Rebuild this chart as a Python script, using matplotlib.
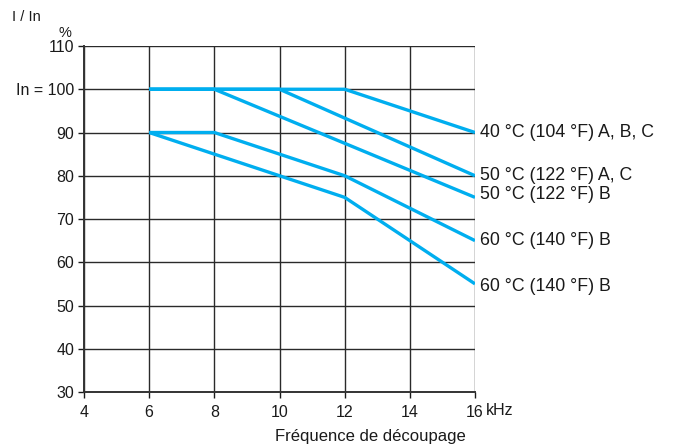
import matplotlib
matplotlib.use("Agg")
import matplotlib.pyplot as plt

plt.rcParams['font.family'] = ['Liberation Sans', 'DejaVu Sans']

# Derating curves: switching frequency (kHz) vs. I/In (%)
freq_40_abc = [6, 12, 16]
curr_40_abc = [100, 100, 90]
freq_50_ac = [6, 10, 16]
curr_50_ac = [100, 100, 80]
freq_50_b = [6, 8, 16]
curr_50_b = [100, 100, 75]
freq_60_b1 = [6, 8, 12, 16]
curr_60_b1 = [90, 90, 80, 65]
freq_60_b2 = [6, 12, 16]
curr_60_b2 = [90, 75, 55]

curves = [
    (freq_40_abc, curr_40_abc, "40 °C (104 °F) A, B, C", 0.0),
    (freq_50_ac, curr_50_ac, "50 °C (122 °F) A, C", 0.0),
    (freq_50_b, curr_50_b, "50 °C (122 °F) B", 0.7),
    (freq_60_b1, curr_60_b1, "60 °C (140 °F) B", 0.0),
    (freq_60_b2, curr_60_b2, "60 °C (140 °F) B", -0.7),
]

x_ticks = [4, 6, 8, 10, 12, 14, 16]
x_tick_labels = ["4", "6", "8", "10", "12", "14", "16"]
y_ticks = [30, 40, 50, 60, 70, 80, 90, 100, 110]
y_tick_labels = ["30", "40", "50", "60", "70", "80", "90", "In = 100", "110"]

txt = "#1a1a1a"
fig = plt.figure(figsize=(6.78, 4.44), dpi=100)
ax = fig.add_axes([0.1239, 0.1171, 0.5767, 0.7793])

line_color = "#00AEEF"
for xs, ys, label, dy in curves:
    ax.plot(xs, ys, color=line_color, lw=2.4, solid_capstyle='butt', zorder=3)
    ax.text(xs[-1] + 0.14, ys[-1] + dy, label, fontsize=12.8,
            ha='left', va='center', color=txt, clip_on=False)

ax.set_xlim(4, 16)
ax.set_ylim(30, 110)
ax.set_xticks(x_ticks)
ax.set_xticklabels(x_tick_labels)
ax.set_yticks(y_ticks)
ax.set_yticklabels(y_tick_labels)
ax.tick_params(axis='both', labelsize=11.5, colors=txt, length=4,
               width=1, direction='out')
ax.tick_params(axis='x', pad=5)
ax.tick_params(axis='y', pad=3)
ax.grid(True, color="#2a2a2a", lw=1, zorder=1)

for side in ['top', 'right']:
    ax.spines[side].set_visible(False)
for side in ['left', 'bottom']:
    ax.spines[side].set_color("#333333")
    ax.spines[side].set_linewidth(1.4)

fig.text(12 / 678, 1 - 17 / 444, "I / In", fontsize=10.5, ha='left', va='center', color=txt)
fig.text(65 / 678, 1 - 33 / 444, "%", fontsize=10.5, ha='center', va='center', color=txt)
fig.text(486 / 678, 1 - 410 / 444, "kHz", fontsize=11.5, ha='left', va='center', color=txt)
fig.text(370 / 678, 1 - 436 / 444, "Fréquence de découpage", fontsize=12,
         ha='center', va='center', color=txt)

fig.savefig("out.png", dpi=100)
